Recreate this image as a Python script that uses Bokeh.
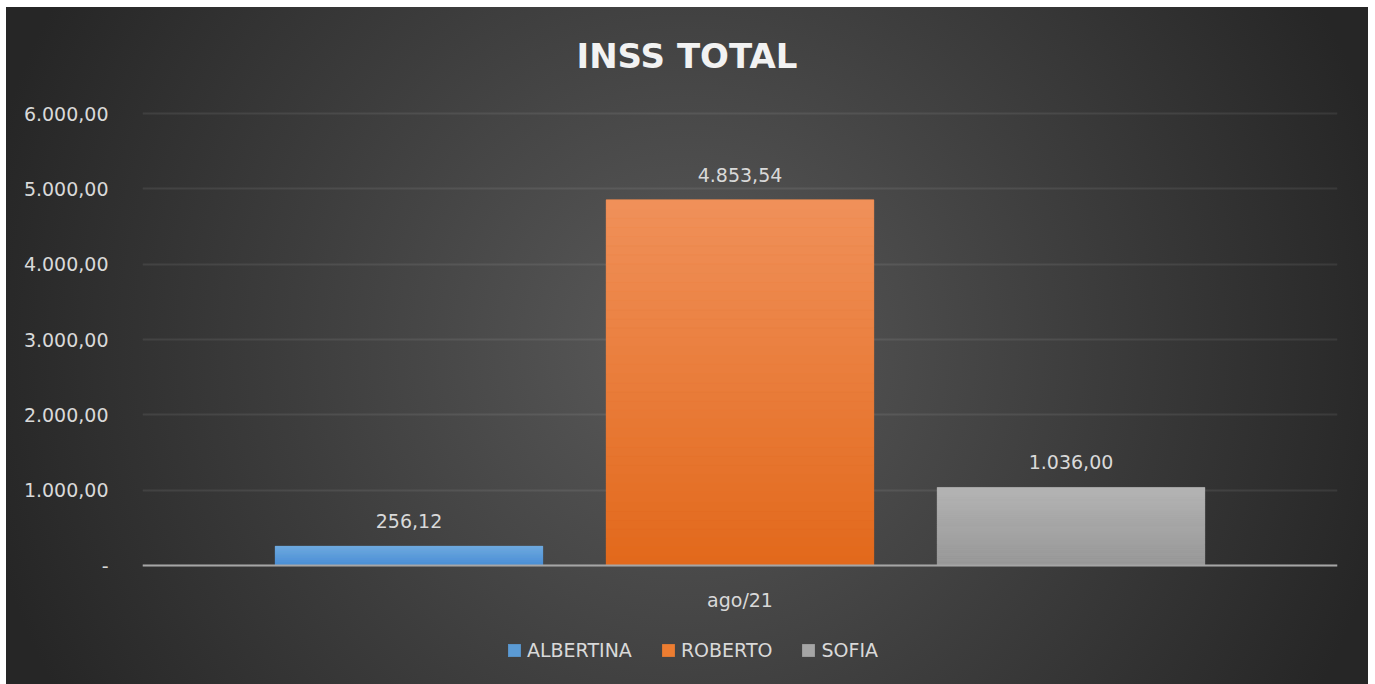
from bokeh.plotting import figure
from bokeh.models import FactorRange, FixedTicker, Legend, LegendItem, ColumnDataSource, Range1d, Span
from bokeh.transform import dodge
from bokeh.core.properties import value
from bokeh.embed import file_html
from bokeh.resources import INLINE

# ---- data ----
title_text = "INSS TOTAL"
category = ["ago/21"]
series = ["ALBERTINA", "ROBERTO", "SOFIA"]
values = [256.12, 4853.54, 1036.00]
value_labels = ["256,12", "4.853,54", "1.036,00"]
y_ticks = [0, 1000, 2000, 3000, 4000, 5000, 6000]
y_tick_labels = ["-", "1.000,00", "2.000,00", "3.000,00", "4.000,00", "5.000,00", "6.000,00"]

# ---- layout / styles ----
W, H = 1362, 677
LEFT, RIGHT = 136, 31
PLOT_TOP, PLOT_BOTTOM = 106, 558      # pixel rows of 6000 and 0 inside the figure
px_per_unit = (PLOT_BOTTOM - PLOT_TOP) / 6000.0
y_start = -(H - PLOT_BOTTOM) / px_per_unit
y_end = 6000 + PLOT_TOP / px_per_unit

offsets = [-0.277, 0.0, 0.277]
bar_width = 0.224
base_colors = ["#5b9bd5", "#ed7d31", "#a5a5a5"]
top_colors = ["#70aae0", "#f0905a", "#b4b4b4"]
bottom_colors = ["#4a8fd6", "#e2691b", "#989898"]
FONT = "DejaVu Sans"
TEXT_COLOR = "#d9d9d9"

p = figure(
    x_range=FactorRange(factors=category, range_padding=0),
    y_range=Range1d(y_start, y_end),
    width=W, height=H,
    output_backend="svg", toolbar_location=None,
    min_border_left=LEFT, min_border_right=RIGHT, min_border_top=0, min_border_bottom=0,
)
p.styles = {"background": "radial-gradient(circle 720px at 50% 50%, #5a5a5a 0%, #3d3d3d 55%, #262626 100%)",
            "margin-left": "6px", "margin-top": "7px"}
p.background_fill_color = None
p.border_fill_color = None
p.outline_line_color = None
p.title.visible = False
p.xaxis.visible = False

def lerp(c1, c2, t):
    a = [int(c1[i:i + 2], 16) for i in (1, 3, 5)]
    b = [int(c2[i:i + 2], 16) for i in (1, 3, 5)]
    return "#%02x%02x%02x" % tuple(round(a[k] + (b[k] - a[k]) * t) for k in range(3))

N = 40
legend_items = []
for i, name in enumerate(series):
    v = values[i]
    src = ColumnDataSource(dict(x=category, top=[v], label=[value_labels[i]]))
    r = p.vbar(x=dodge("x", offsets[i], range=p.x_range), top="top", bottom=0,
               width=bar_width, source=src, fill_color=base_colors[i], line_color=None)
    legend_items.append(LegendItem(label=name, renderers=[r]))
    bots = [v * k / N for k in range(N)]
    tops = [v * (k + 1) / N for k in range(N)]
    cols = [lerp(bottom_colors[i], top_colors[i], (k + 0.5) / N) for k in range(N)]
    gsrc = ColumnDataSource(dict(x=category * N, bottom=bots, top=tops, color=cols))
    p.vbar(x=dodge("x", offsets[i], range=p.x_range), top="top", bottom="bottom",
           width=bar_width, source=gsrc, fill_color="color", line_color="color", line_width=0.5)
    p.text(x=dodge("x", offsets[i], range=p.x_range), y="top", text="label", source=src,
           text_align="center", text_baseline="middle", y_offset=-25,
           text_font=value(FONT), text_font_size="19px", text_color=TEXT_COLOR)

# category label under the baseline
csrc = ColumnDataSource(dict(x=category, y=[0], label=category))
p.text(x="x", y="y", text="label", source=csrc, text_align="center", text_baseline="middle",
       y_offset=34, text_font=value(FONT), text_font_size="19px", text_color=TEXT_COLOR)

# chart title (centered on the whole chart)
tsrc = ColumnDataSource(dict(x=category, y=[y_end], label=[title_text]))
p.text(x="x", y="y", text="label", source=tsrc, text_align="center", text_baseline="middle",
       x_offset=-53, y_offset=48, text_font=value(FONT), text_font_size="34px",
       text_font_style="bold", text_color="#f2f2f2")

# baseline
p.add_layout(Span(location=0, dimension="width", line_color="#a6a6a6", line_width=2))

p.yaxis.ticker = FixedTicker(ticks=y_ticks)
p.yaxis.major_label_overrides = {t: l for t, l in zip(y_ticks, y_tick_labels)}
p.yaxis.axis_line_color = None
p.yaxis.major_tick_line_color = None
p.yaxis.minor_tick_line_color = None
p.yaxis.major_label_standoff = 28
p.yaxis.major_label_text_font = FONT
p.yaxis.major_label_text_font_size = "19px"
p.yaxis.major_label_text_color = TEXT_COLOR

p.xgrid.grid_line_color = None
p.ygrid.ticker = FixedTicker(ticks=y_ticks)
p.ygrid.grid_line_color = "#ffffff"
p.ygrid.grid_line_alpha = 0.08
p.ygrid.grid_line_width = 2

legend = Legend(items=legend_items, orientation="horizontal", location=(364, 23),
                background_fill_alpha=0, border_line_color=None,
                label_text_font=FONT, label_text_font_size="19px", label_text_color=TEXT_COLOR,
                glyph_width=16, glyph_height=16, spacing=28, label_standoff=5, padding=0,
                margin=0)
p.add_layout(legend, "center")

open("out.html", "w").write(file_html(p, INLINE))
